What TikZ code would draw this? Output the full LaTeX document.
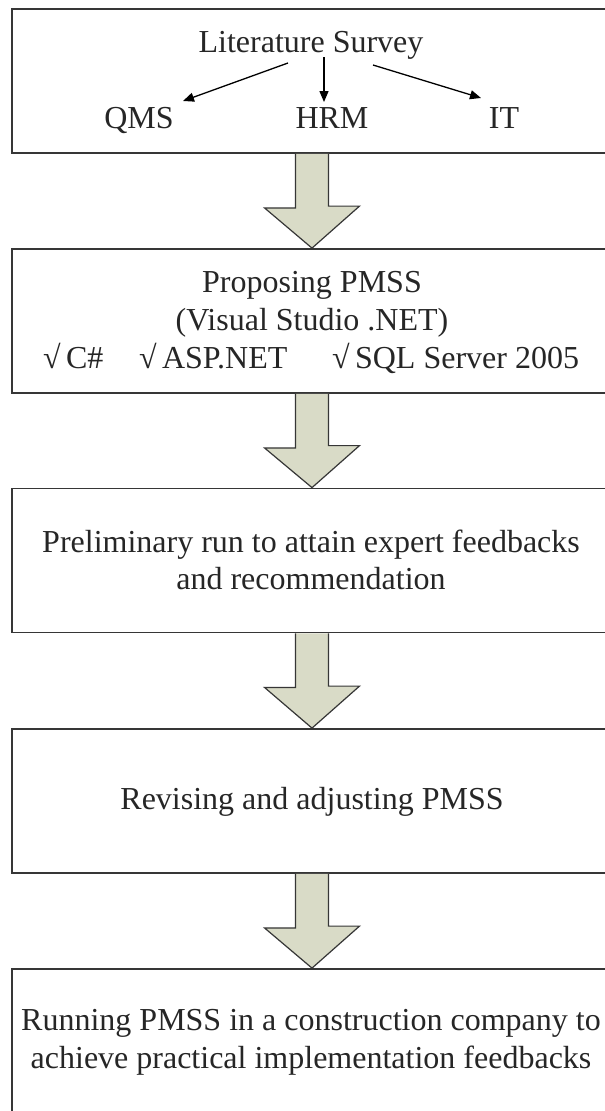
\documentclass[tikz,border=0pt]{standalone}
\usepackage{fontspec}
\setmainfont{Liberation Serif}
\usetikzlibrary{calc,arrows.meta}
\definecolor{boxline}{HTML}{363636}
\definecolor{arrowfill}{HTML}{D9DBC7}
\begin{document}
\begin{tikzpicture}[x=1pt,y=-1pt,
  stepbox/.style={draw=boxline,line width=1.8pt,fill=white,minimum width=600pt,minimum height=144pt,inner sep=0pt},
  txt/.style={anchor=base,inner sep=0pt,font=\fontsize{32}{38}\selectfont,text=black!85},
  txtw/.style={anchor=base west,inner sep=0pt,font=\fontsize{32}{38}\selectfont,text=black!85},
  bigarrow/.style={draw=boxline,line width=1.2pt,fill=arrowfill,line join=miter},
  thin/.style={draw=black,line width=1.3pt,-{Triangle[length=11pt,width=9pt]}}]
\useasboundingbox (0,0) rectangle (605,1111);
\clip (0,0) rectangle (605,1111);
\fill[white] (0,0) rectangle (605,1111);
% boxes
\node[stepbox] (b1) at (312,81) {};
\node[stepbox] (b2) at (312,321) {};
\node[stepbox] (b3) at (312,560.5) {};
\node[stepbox] (b4) at (312,801) {};
\node[stepbox] (b5) at (312,1041) {};
% big arrows
\foreach \a/\b in {b1/b2,b2/b3,b3/b4,b4/b5}{
  \draw[bigarrow] ($(\a.south)+(-16.5,0)$) -- ++(0,54) -- ++(-31,0) -- (\b.north)
    -- ($(\b.north)+(47.5,-42)$) -- ++(-31,0) -- ($(\a.south)+(16.5,0)$);
}
% box 1
\node[txt] (lit) at (311,52) {Literature Survey};
\node[txt] (qms) at (139,128) {QMS};
\node[txt] (hrm) at (332,128) {HRM};
\node[txt] (it) at (504,128) {IT};
\coordinate (l1) at (288,63);  \coordinate (l2) at (183,101);
\coordinate (m1) at (324,57);  \coordinate (m2) at (324,102);
\coordinate (r1) at (373,65);  \coordinate (r2) at (481,98);
\draw[thin] (l1) -- (l2);
\draw[thin] (m1) -- (m2);
\draw[thin] (r1) -- (r2);
% box 2
\node[txt] (p1) at (312,292) {Proposing PMSS};
\node[txt] (p2) at (312,330) {(Visual Studio .NET)};
\node[txtw] (c1) at (43,368) {√\,C\#};
\node[txtw] (c2) at (139,368) {√\,ASP.NET};
\node[txtw] (c3) at (332,368) {√\,SQL Server 2005};
% box 3
\node[txt] (t3a) at (311,552) {Preliminary run to attain expert feedbacks};
\node[txt] (t3b) at (311,589) {and recommendation};
% box 4
\node[txt] (t4) at (312,809) {Revising and adjusting PMSS};
% box 5
\node[txt] (t5a) at (311,1030) {Running PMSS in a construction company to};
\node[txt] (t5b) at (311,1068) {achieve practical implementation feedbacks};
\end{tikzpicture}
\end{document}
